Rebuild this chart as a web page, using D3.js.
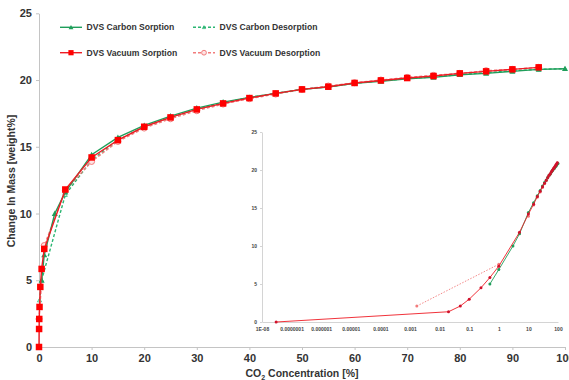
<!DOCTYPE html>
<html>
<head>
<meta charset="utf-8">
<script src="https://cdn.jsdelivr.net/npm/d3@7"></script>
<style>
  body { margin: 0; background: #fff; }
  svg { display: block; font-family: "Liberation Sans", Arial, sans-serif; }
</style>
</head>
<body>
<div class="container"></div>
<script>
const width = 569;
const height = 380;

// CO2 concentration [%] and change in mass [weight%]
const vacSorpX = [3e-8, 0.02, 0.05, 0.1, 0.25, 0.5, 1, 5, 10, 15, 20, 25, 30, 35, 40, 45, 50, 55, 60, 65, 70, 75, 80, 85, 90, 95];
const vacSorpY = [0, 1.35, 2.1, 3.0, 4.5, 5.85, 7.35, 11.8, 14.2, 15.5, 16.5, 17.2, 17.8, 18.25, 18.65, 19.0, 19.3, 19.5, 19.78, 19.97, 20.15, 20.3, 20.5, 20.65, 20.8, 20.95];

const vacDesX = [0.0017, 1, 5, 10, 15, 20, 25, 30, 35, 40, 45, 50, 55, 60, 65, 70, 75, 80, 85, 90, 95];
const vacDesY = [2.1, 7.6, 11.7, 13.9, 15.4, 16.4, 17.1, 17.7, 18.2, 18.6, 18.95, 19.3, 19.55, 19.8, 20.0, 20.2, 20.35, 20.5, 20.7, 20.8, 20.95];

const carbSorpX = [0.5, 1, 3, 5, 10, 15, 20, 25, 30, 35, 40, 45, 50, 55, 60, 65, 70, 75, 80, 85, 90, 95, 100];
const carbSorpY = [5.0, 6.9, 10.0, 11.6, 14.4, 15.7, 16.6, 17.3, 17.9, 18.35, 18.7, 19.0, 19.3, 19.48, 19.75, 19.9, 20.1, 20.2, 20.4, 20.5, 20.65, 20.8, 20.85];

const carbDesX = [0.1, 0.5, 5, 10, 15, 20, 25, 30, 35, 40, 45, 50, 55, 60, 65, 70, 75, 80, 85, 90, 95, 100];
const carbDesY = [3.5, 5.0, 11.4, 14.0, 15.5, 16.5, 17.2, 17.8, 18.3, 18.7, 19.0, 19.3, 19.5, 19.75, 19.95, 20.1, 20.25, 20.4, 20.55, 20.7, 20.8, 20.85];

const mainXTicks = [0, 10, 20, 30, 40, 50, 60, 70, 80, 90, 100];
const mainYTicks = [0, 5, 10, 15, 20, 25];
const insetXTicks = [1e-8, 1e-7, 1e-6, 1e-5, 1e-4, 1e-3, 0.01, 0.1, 1, 10, 100];
const insetXLabels = ["1E-08", "0.0000001", "0.000001", "0.00001", "0.0001", "0.001", "0.01", "0.1", "1", "10", "100"];

const legendNames = ["DVS Carbon Sorption", "DVS Carbon Desorption", "DVS Vacuum Sorption", "DVS Vacuum Desorption"];

const zip = (xs, ys) => xs.map((x, i) => ({x: x, y: ys[i]}));

const series = [
  {name: legendNames[1], data: zip(carbDesX, carbDesY), color: "#2bb673", dash: "3,2", marker: "triHollow", inset: false},
  {name: legendNames[3], data: zip(vacDesX, vacDesY), color: "#f27c7c", dash: "3,2", marker: "circle", inset: true},
  {name: legendNames[0], data: zip(carbSorpX, carbSorpY), color: "#1f9e5a", dash: null, marker: "tri", inset: true},
  {name: legendNames[2], data: zip(vacSorpX, vacSorpY), color: "#ee1c25", dash: null, marker: "square", inset: true}
];

const svg = d3.select(".container").append("svg")
    .attr("width", width)
    .attr("height", height);

// ---------- main chart ----------
const x = d3.scaleLinear().domain([0, 100]).range([39, 565]);
const y = d3.scaleLinear().domain([0, 25]).range([347, 13.3]);

const axisColor = "#c4c4c4";

const xAxis = svg.append("g")
    .attr("transform", `translate(0,${y(0)})`)
    .call(d3.axisBottom(x).tickValues(mainXTicks).tickSize(3).tickSizeOuter(0).tickPadding(4));
xAxis.selectAll("text").style("font-size", "11px").style("font-weight", "bold").attr("fill", "#333");

const yAxis = svg.append("g")
    .attr("transform", `translate(${x(0)},0)`)
    .call(d3.axisLeft(y).tickValues(mainYTicks).tickSize(3).tickSizeOuter(0).tickPadding(4));
yAxis.selectAll("text").style("font-size", "11px").style("font-weight", "bold").attr("fill", "#333");

svg.selectAll(".domain, .tick line").attr("stroke", axisColor);

// axis titles
const xTitle = svg.append("text")
    .attr("x", 302)
    .attr("y", 377)
    .attr("text-anchor", "middle")
    .style("font-size", "10.5px")
    .style("font-weight", "bold")
    .attr("fill", "#333");
xTitle.append("tspan").text("CO");
xTitle.append("tspan").attr("dy", 3).style("font-size", "7px").text("2");
xTitle.append("tspan").attr("dy", -3).text(" Concentration [%]");

svg.append("text")
    .attr("transform", "translate(15,181) rotate(-90)")
    .attr("text-anchor", "middle")
    .style("font-size", "10.5px")
    .style("font-weight", "bold")
    .attr("fill", "#333")
    .text("Change In Mass [weight%]");

function drawMarker(sel, type, color, size) {
  if (type === "square") {
    sel.append("rect")
      .attr("x", -size / 2).attr("y", -size / 2)
      .attr("width", size).attr("height", size)
      .attr("fill", "#ff0000");
  } else if (type === "circle") {
    sel.append("circle").attr("r", size / 2)
      .attr("fill", "#fde3e3").attr("stroke", color).attr("stroke-width", 1);
  } else if (type === "tri" || type === "triHollow") {
    const s = size / 2;
    sel.append("path")
      .attr("d", `M0,${-s}L${s},${s * 0.8}L${-s},${s * 0.8}Z`)
      .attr("fill", type === "tri" ? color : "none")
      .attr("stroke", color).attr("stroke-width", type === "tri" ? 0 : 0.8);
  }
}

const markerSize = {square: 6.5, circle: 6, tri: 6, triHollow: 4};

const mainLine = d3.line().x(d => x(d.x)).y(d => y(d.y));

series.forEach(s => {
  svg.append("path")
    .datum(s.data)
    .attr("d", mainLine)
    .attr("fill", "none")
    .attr("stroke", s.color)
    .attr("stroke-width", 1.4)
    .attr("stroke-dasharray", s.dash);
  svg.append("g").selectAll("g")
    .data(s.data)
    .join("g")
      .attr("transform", d => `translate(${x(d.x)},${y(d.y)})`)
      .each(function() { drawMarker(d3.select(this), s.marker, s.color, markerSize[s.marker]); });
});

// legend
const legendPos = [[60, 27.3], [193, 27.3], [60, 52.7], [193, 52.7]];
const legendOrder = [2, 0, 3, 1];
legendOrder.forEach((si, i) => {
  const s = series[si];
  const g = svg.append("g").attr("transform", `translate(${legendPos[i][0]},${legendPos[i][1]})`);
  g.append("line")
    .attr("x1", 0).attr("x2", 22)
    .attr("stroke", s.color).attr("stroke-width", 1.4)
    .attr("stroke-dasharray", s.dash);
  const m = g.append("g").attr("transform", "translate(11,0)");
  drawMarker(m, s.marker, s.color, markerSize[s.marker] * 0.8);
  g.append("text")
    .attr("x", 26.5)
    .attr("dy", "0.35em")
    .style("font-size", "8.6px")
    .style("font-weight", "bold")
    .attr("fill", "#333")
    .text(s.name);
});

// ---------- inset (log scale) ----------
const xi = d3.scaleLog().domain([1e-8, 100]).range([262, 558]);
const yi = d3.scaleLinear().domain([0, 25]).range([322, 132]);

const inset = svg.append("g");

const ixAxis = inset.append("g")
    .attr("transform", `translate(0,${yi(0)})`)
    .call(d3.axisBottom(xi).tickValues(insetXTicks).tickFormat((d, i) => insetXLabels[i]).tickSize(0).tickPadding(5));
const iyAxis = inset.append("g")
    .attr("transform", `translate(${xi(1e-8)},0)`)
    .call(d3.axisLeft(yi).tickValues(mainYTicks).tickSize(2).tickSizeOuter(0).tickPadding(3));
inset.selectAll(".domain, .tick line").attr("stroke", "#d4d4d4");
inset.selectAll("text").style("font-size", "5px").style("font-weight", "bold").attr("fill", "#444");

const insetLine = d3.line().x(d => xi(d.x)).y(d => yi(d.y));

series.filter(s => s.inset).forEach(s => {
  const pts = s.name === legendNames[3] ? s.data.slice(0, 2) : s.data;
  inset.append("path")
    .datum(s.name === legendNames[3] ? pts : s.data)
    .attr("d", insetLine)
    .attr("fill", "none")
    .attr("stroke", s.color)
    .attr("stroke-width", 0.9)
    .attr("stroke-dasharray", s.dash ? "1.5,1.5" : null);
  inset.append("g").selectAll("circle")
    .data(s.data)
    .join("circle")
      .attr("cx", d => xi(d.x))
      .attr("cy", d => yi(d.y))
      .attr("r", 1.5)
      .attr("fill", s.marker === "square" ? "#d0112b" : s.color);
});
</script>
</body>
</html>
